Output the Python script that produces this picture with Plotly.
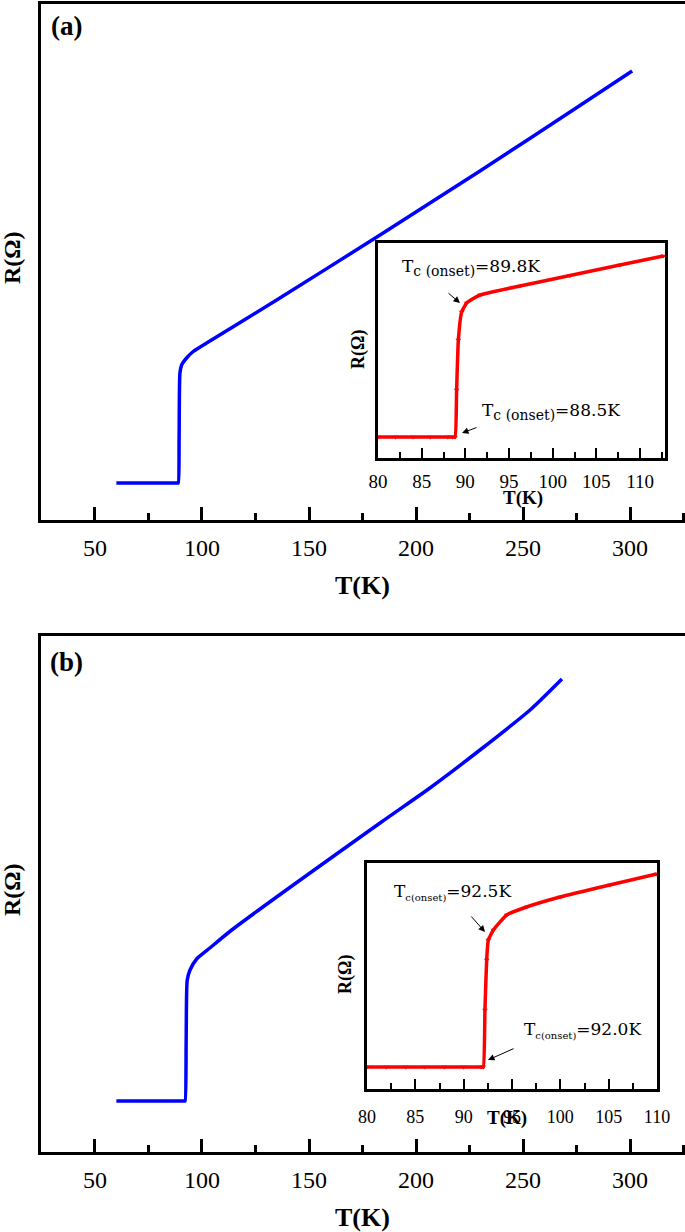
import plotly.graph_objects as go

W, H = 685, 1232

# ---------------- data (R in arbitrary units) ----------------
Ta = [60, 70, 80, 88.5, 88.9, 89.3, 89.7, 90.5, 92.8, 95.9, 103.7, 134.9, 183.2, 229.9, 276.6, 301.0]
Ra = [0, 0, 0, 0, 0, 0.86, 2.2, 2.36, 2.50, 2.63, 2.84, 3.66, 4.96, 6.24, 7.55, 8.24]

Ta_in = [80, 82, 84, 86, 88, 88.5, 88.82, 89.0, 89.2, 89.58, 90.15, 91.68, 96.26, 101.98, 107.7, 112.67]
Ra_in = [0, 0, 0, 0, 0, 0, 0, 4.7, 9.7, 12.5, 13.4, 14.2, 15.1, 16.15, 17.2, 18.1]

Tb = [60, 70, 80, 91.8, 92.1, 92.6, 93.1, 94.4, 97.5, 103.7, 113.9, 183.2, 206.5, 229.9, 253.3, 268.2]
Rb = [0, 0, 0, 0, 0, 1.2, 2.42, 2.62, 2.84, 3.06, 3.42, 5.56, 6.26, 7.02, 7.82, 8.44]

Tb_in = [80, 82, 84, 86, 88, 90, 91.8, 92.03, 92.2, 92.38, 92.55, 93.07, 94.45, 96.5, 99.97, 105.1, 109.97]
Rb_in = [0, 0, 0, 0, 0, 0, 0, 0, 5.7, 10.7, 12.7, 13.7, 15.2, 16.0, 17.0, 18.2, 19.3]

main_ticks = [50, 100, 150, 200, 250, 300]
inset_ticks = [80, 85, 90, 95, 100, 105, 110]

ann_texts = ["89.8K", "88.5K", "92.5K", "92.0K"]


def px(x):
    return x / W


def py(y):
    return 1 - y / H


SERIF = "Liberation Serif"
ANN = "DejaVu Serif"

fig = go.Figure()
fig.add_trace(go.Scatter(x=Ta, y=Ra, mode="lines",
                         line=dict(color="#0000ff", width=3.5, shape="spline", smoothing=0.6),
                         xaxis="x", yaxis="y", showlegend=False))
fig.add_trace(go.Scatter(x=Ta_in, y=Ra_in, mode="lines+markers",
                         line=dict(color="#ff0000", width=3.5, shape="spline", smoothing=0.4),
                         marker=dict(symbol="triangle-down", size=5, color="#ff0000"),
                         xaxis="x2", yaxis="y2", showlegend=False))
fig.add_trace(go.Scatter(x=Tb, y=Rb, mode="lines",
                         line=dict(color="#0000ff", width=3.5, shape="spline", smoothing=0.6),
                         xaxis="x3", yaxis="y3", showlegend=False))
fig.add_trace(go.Scatter(x=Tb_in, y=Rb_in, mode="lines+markers",
                         line=dict(color="#ff0000", width=3.5, shape="spline", smoothing=0.4),
                         marker=dict(symbol="triangle-down", size=5, color="#ff0000"),
                         xaxis="x4", yaxis="y4", showlegend=False))


def main_x(anchor):
    return dict(domain=[px(41), 1.0], range=[24.77, 325.7], anchor=anchor, automargin=False,
                showline=True, linecolor="black", linewidth=3, mirror=True,
                ticks="inside", ticklen=13, tickwidth=2.5, tickcolor="black",
                tickvals=main_ticks, ticktext=[str(v) for v in main_ticks],
                minor=dict(ticks="inside", ticklen=7, tickwidth=2.5, tickcolor="black", dtick=25, tick0=25),
                tickfont=dict(family=SERIF, size=24, color="black"), ticklabelstandoff=4,
                showgrid=False, zeroline=False)


def main_y(anchor, dom, rng):
    return dict(domain=dom, range=rng, anchor=anchor, automargin=False, showline=True, linecolor="black",
                linewidth=3, mirror=False, showticklabels=False, ticks="",
                showgrid=False, zeroline=False)


def inset_x(anchor, dom, rng, fs, standoff):
    return dict(domain=dom, range=rng, anchor=anchor, automargin=False,
                showline=True, linecolor="black", linewidth=3, mirror=True,
                ticks="inside", ticklen=10, tickwidth=2, tickcolor="black",
                tickvals=inset_ticks, ticktext=[str(v) for v in inset_ticks],
                minor=dict(ticks="inside", ticklen=6, tickwidth=2, tickcolor="black", dtick=2.5, tick0=80),
                tickfont=dict(family=SERIF, size=fs, color="black"), ticklabelstandoff=standoff,
                showgrid=False, zeroline=False)


def inset_y(anchor, dom, rng):
    return dict(domain=dom, range=rng, anchor=anchor, automargin=False, showline=True, linecolor="black",
                linewidth=3, mirror=True, showticklabels=False, ticks="",
                showgrid=False, zeroline=False)


fig.update_layout(
    template="none",
    width=W, height=H, margin=dict(l=0, r=0, t=0, b=0, pad=0, autoexpand=False),
    paper_bgcolor="white", plot_bgcolor="white", showlegend=False,
    xaxis=main_x("y"),
    yaxis=main_y("x", [py(520), py(4)], [-0.74, 9.58]),
    xaxis2=inset_x("y2", [px(378), px(665)], [80, 112.86], 19, 4),
    yaxis2=inset_y("x2", [py(458), py(243)], [-2.1, 19.4]),
    xaxis3=main_x("y3"),
    yaxis3=main_y("x3", [py(1152), py(636)], [-1.02, 9.3]),
    xaxis4=inset_x("y4", [px(367), px(657)], [80, 110], 18, 9),
    yaxis4=inset_y("x4", [py(1089), py(863)], [-2.2, 20.4]),
)

anns = []


def text(x, y, s, size, bold=False, angle=0, xanchor="center", family=SERIF):
    if bold:
        s = "<b>" + s + "</b>"
    anns.append(dict(x=px(x), y=py(y), xref="paper", yref="paper", text=s, showarrow=False,
                     xanchor=xanchor, yanchor="middle", textangle=angle,
                     font=dict(family=family, size=size, color="black")))


def arrow(xh, yh, xt, yt):
    anns.append(dict(x=px(xh), y=py(yh), xref="paper", yref="paper", text="", showarrow=True,
                     ax=xt - xh, ay=yt - yh, arrowhead=2, arrowsize=1.3, arrowwidth=1,
                     arrowcolor="black"))


# panel labels and axis titles
text(66, 26, "(a)", 27, bold=True)
text(66, 662, "(b)", 27, bold=True)
text(362, 585, "T(K)", 26, bold=True)
text(362, 1217, "T(K)", 26, bold=True)
text(12, 258, "R(Ω)", 24, bold=True, angle=-90)
text(12, 890, "R(Ω)", 24, bold=True, angle=-90)

# inset titles
text(523, 498, "T(K)", 19, bold=True)
text(507, 1118, "T(K)", 19, bold=True)
text(358, 350, "R(Ω)", 18, bold=True, angle=-90)
text(345, 975, "R(Ω)", 18, bold=True, angle=-90)

# inset annotations
SUB_A = "<sub><span style='font-size:14px'>c (onset)</span></sub>"
SUB_B = "<sub><span style='font-size:10px'>c(onset)</span></sub>"
text(400, 268, "T" + SUB_A + "=" + ann_texts[0], 17, xanchor="left", family=ANN)
text(480, 412, "T" + SUB_A + "=" + ann_texts[1], 17, xanchor="left", family=ANN)
text(392, 892, "T" + SUB_B + "=" + ann_texts[2], 17, xanchor="left", family=ANN)
text(522, 1030, "T" + SUB_B + "=" + ann_texts[3], 17, xanchor="left", family=ANN)

arrow(460, 303, 447, 292)
arrow(462, 433, 478, 427)
arrow(485, 932, 470, 915)
arrow(488, 1060, 515, 1048)

fig.update_layout(annotations=anns)
fig.write_html("out.html", config={"displayModeBar": False},
               post_script="document.body.style.margin='0';document.body.style.overflow='hidden';")
